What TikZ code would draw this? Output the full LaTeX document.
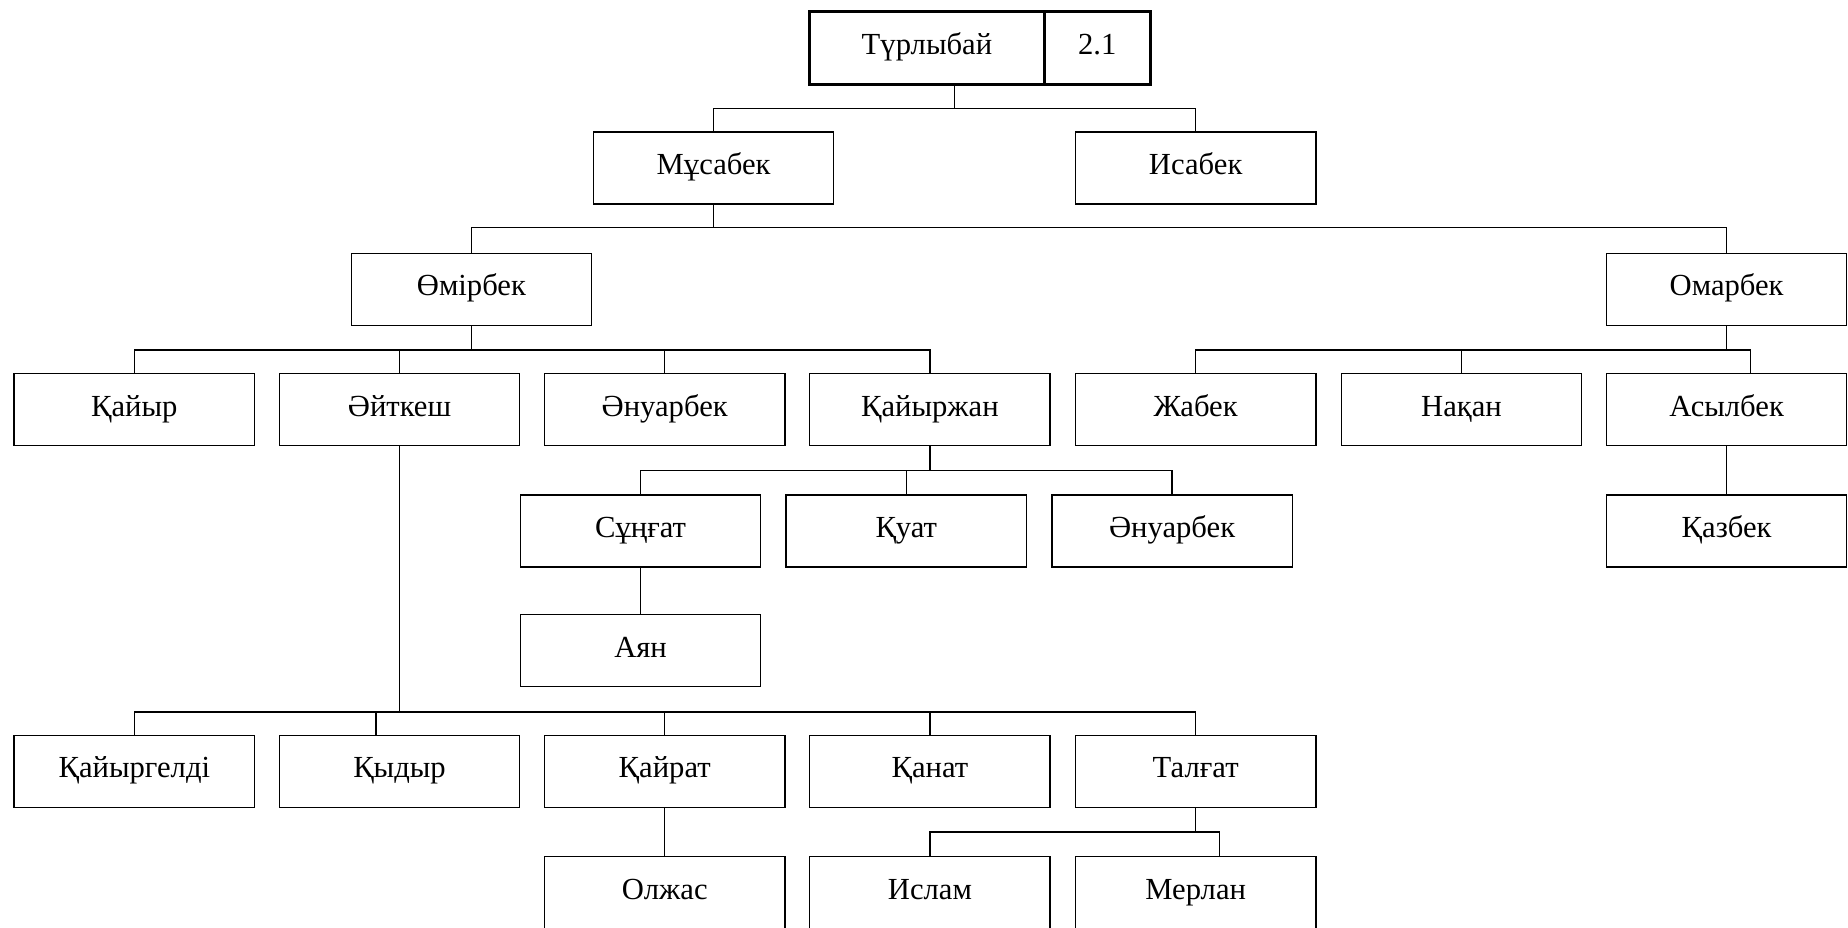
\documentclass[tikz,border=0pt]{standalone}
\usepackage{fontspec}
\setmainfont{Liberation Serif}
\usetikzlibrary{calc}
\begin{document}
\begin{tikzpicture}[x=1pt,y=-1pt,
  person/.style={draw, line width=1.1pt, minimum width=204pt, minimum height=61pt, inner sep=0pt,
    text height=17pt, text depth=6pt, font=\fontsize{26}{30}\selectfont},
  link/.style={line width=1.1pt},
  topbox/.style={draw, line width=2.6pt, minimum height=62pt, inner sep=0pt,
    text height=17pt, text depth=6pt, font=\fontsize{26}{30}\selectfont}]
\useasboundingbox (0,0) rectangle (1568,787);
\clip (0,0) rectangle (1568,787);
% root
\node[topbox, minimum width=199pt] (T1) at (786.5,41) {Түрлыбай};
\node[topbox, minimum width=90pt] (T2) at (931,41) {2.1};
% level 1
\node[person] (Mus) at (605.5,142.5) {Мұсабек};
\node[person] (Isa) at (1014.5,142.5) {Исабек};
% level 2
\node[person] (Omi) at (400,245.5) {Өмірбек};
\node[person] (Oma) at (1465,245.5) {Омарбек};
% level 3
\node[person] (Qai) at (114,347.5) {Қайыр};
\node[person] (Ait) at (339,347.5) {Әйткеш};
\node[person] (Anu) at (564,347.5) {Әнуарбек};
\node[person] (Qzh) at (789,347.5) {Қайыржан};
\node[person] (Zha) at (1014.5,347.5) {Жабек};
\node[person] (Naq) at (1240,347.5) {Нақан};
\node[person] (Asy) at (1465,347.5) {Асылбек};
% level 4
\node[person] (Sun) at (543.5,450.5) {Сұңғат};
\node[person] (Quat) at (769,450.5) {Қуат};
\node[person] (AnuB) at (994.5,450.5) {Әнуарбек};
\node[person] (Qaz) at (1465,450.5) {Қазбек};
% level 5
\node[person] (Ayan) at (543.5,552) {Аян};
% level 6
\node[person] (Qgl) at (114,654.5) {Қайыргелді};
\node[person] (Qyd) at (339,654.5) {Қыдыр};
\node[person] (Qrt) at (564,654.5) {Қайрат};
\node[person] (Qan) at (789,654.5) {Қанат};
\node[person] (Tal) at (1014.5,654.5) {Талғат};
% level 7
\node[person] (Olz) at (564,757.5) {Олжас};
\node[person] (Isl) at (789,757.5) {Ислам};
\node[person] (Mer) at (1014.5,757.5) {Мерлан};

% buses
\coordinate (b0) at (810,92);
\coordinate (b1) at (605.5,193);
\coordinate (b2) at (400,297);
\coordinate (b3) at (1465,297);
\coordinate (b4) at (789,399);
\coordinate (b6) at (339,604);
\coordinate (b7) at (1014.5,706);
\coordinate (asyIn) at ($(Asy.north)+(20,0)$);
\coordinate (qydIn) at ($(Qyd.north)+(-20,0)$);
\coordinate (merIn) at ($(Mer.north)+(20,0)$);

% root -> level 1
\draw[link] (b0 |- T1.south) -- (b0);
\draw[link] (Mus.north) |- (b0) -| (Isa.north);
% Musabek -> level 2
\draw[link] (Mus.south) -- (b1);
\draw[link] (Omi.north) |- (b1) -| (Oma.north);
% Omirbek -> level 3
\draw[link] (Omi.south) -- (b2);
\draw[link] (Qai.north) |- (b2) -| (Qzh.north);
\draw[link] (Ait.north) -- (Ait.north |- b2);
\draw[link] (Anu.north) -- (Anu.north |- b2);
% Omarbek -> level 3
\draw[link] (Oma.south) -- (b3);
\draw[link] (Zha.north) |- (b3) -| (asyIn);
\draw[link] (Naq.north) -- (Naq.north |- b3);
% Qaiyrzhan -> level 4
\draw[link] (Qzh.south) -- (b4);
\draw[link] (Sun.north) |- (b4) -| (AnuB.north);
\draw[link] (Quat.north) -- (Quat.north |- b4);
% Sungat -> Ayan, Asylbek -> Qazbek
\draw[link] (Sun.south) -- (Ayan.north);
\draw[link] (Asy.south) -- (Qaz.north);
% Aitkesh -> level 6
\draw[link] (Ait.south) -- (b6);
\draw[link] (Qgl.north) |- (b6) -| (Tal.north);
\draw[link] (qydIn) -- (qydIn |- b6);
\draw[link] (Qrt.north) -- (Qrt.north |- b6);
\draw[link] (Qan.north) -- (Qan.north |- b6);
% Qairat -> Olzhas
\draw[link] (Qrt.south) -- (Olz.north);
% Talgat -> level 7
\draw[link] (Tal.south) -- (b7);
\draw[link] (Isl.north) |- (b7) -| (merIn);
\end{tikzpicture}
\end{document}
